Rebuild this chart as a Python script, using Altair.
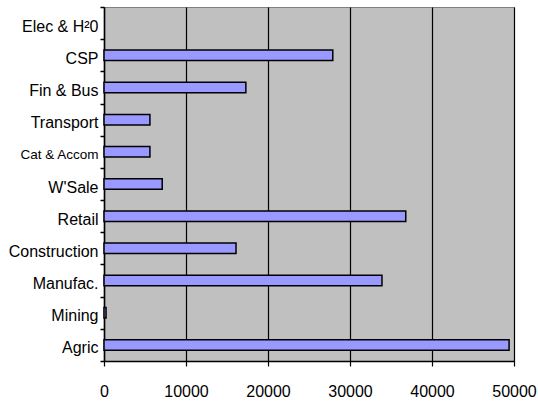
import altair as alt
import pandas as pd

# Employment by sector, listed top to bottom
sectors = ["Elec & H²0", "CSP", "Fin & Bus", "Transport", "Cat &  Accom",
           "W'Sale", "Retail", "Construction", "Manufac.", "Mining", "Agric"]
workers = [0, 27900, 17300, 5600, 5600, 7100, 36800, 16100, 33900, 250, 49400]
x_ticks = [0, 10000, 20000, 30000, 40000, 50000]

df = pd.DataFrame({"sector": sectors, "workers": workers})

font = "Liberation Sans"

bars = alt.Chart(df).mark_bar(
    size=10.5, color="#9999FF", stroke="black", strokeWidth=1.5
).encode(
    x=alt.X(
        "workers:Q",
        scale=alt.Scale(domain=[0, 50000], nice=False, zero=True),
        axis=alt.Axis(
            values=x_ticks, title=None, format="d",
            grid=True, gridColor="black", gridWidth=1.2,
            domainColor="black", domainWidth=1.5,
            tickColor="black", tickSize=5, tickWidth=1.2,
            labelFont=font, labelFontSize=16, labelColor="black",
            labelPadding=17, labelFlush=False, labelOverlap=False,
        ),
    ),
    y=alt.Y(
        "sector:N",
        sort=sectors,
        scale=alt.Scale(paddingInner=0, paddingOuter=0),
        axis=alt.Axis(
            title=None, grid=False, tickBand="extent",
            domainColor="black", domainWidth=1.5,
            tickColor="black", tickSize=4, tickWidth=1.5,
            labelFont=font, labelColor="black",
            labelFontSize=alt.condition(
                "datum.value == 'Cat &  Accom'", alt.value(13.5), alt.value(16)
            ),
            labelPadding=2, labelOffset=3, labelLimit=200,
        ),
    ),
    # an empty sector leaves no outline behind
    strokeOpacity=alt.condition("datum.workers > 0", alt.value(1), alt.value(0)),
)

chart = bars.properties(
    width=410,
    height=354,
    autosize=alt.AutoSizeParams(type="none"),
    padding={"left": 104, "top": 7, "right": 24, "bottom": 44},
    background="white",
).configure_view(
    fill="#C0C0C0", stroke="#808080", strokeWidth=1
)

chart.save("out.html", embed_options={"renderer": "svg", "actions": False})
